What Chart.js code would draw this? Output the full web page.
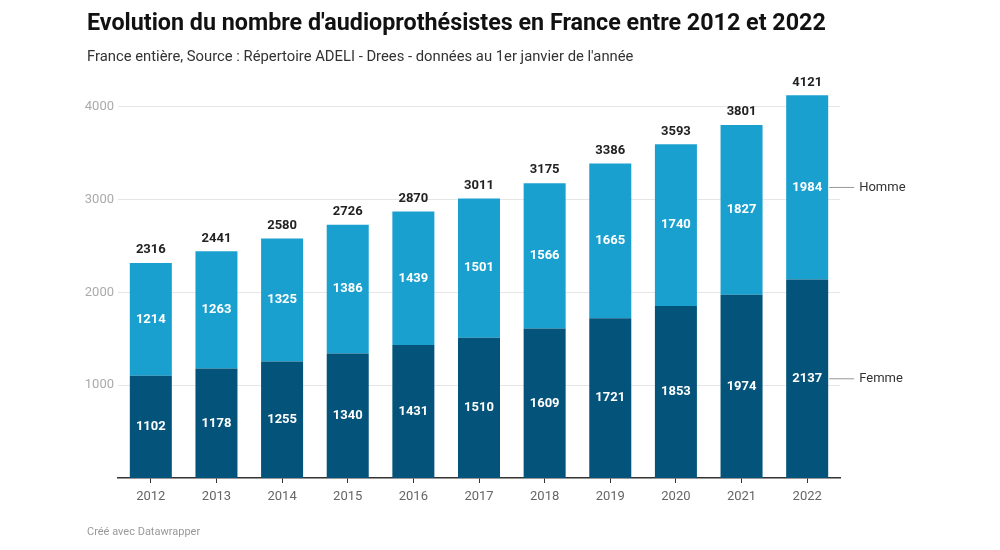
<html>
<head>
  <script src="https://cdn.jsdelivr.net/npm/chart.js@4.4.0/dist/chart.umd.min.js"></script>
  <style>
    body { margin:0; background:#fff; font-family:Roboto, sans-serif; }
    #wrap { position:relative; width:1000px; height:550px; }
    #title { position:absolute; left:87px; top:8px; font-size:23.3px; font-weight:bold; color:#111; }
    #subtitle { position:absolute; left:87px; top:47px; font-size:14.8px; color:#333; }
    #footer { position:absolute; left:87px; top:525px; font-size:11px; color:#999; }
    canvas { position:absolute; left:0; top:0; }
  </style>
</head>
<body>
<div id="wrap">
  <canvas id="chart" width="1000" height="550"></canvas>
  <div id="title">Evolution du nombre d'audioprothésistes en France entre 2012 et 2022</div>
  <div id="subtitle">France entière, Source : Répertoire ADELI - Drees - données au 1er janvier de l'année</div>
  <div id="footer">Créé avec Datawrapper</div>
</div>

<script>
var years = ['2012','2013','2014','2015','2016','2017','2018','2019','2020','2021','2022'];
var femme = [1102, 1178, 1255, 1340, 1431, 1510, 1609, 1721, 1853, 1974, 2137];
var homme = [1214, 1263, 1325, 1386, 1439, 1501, 1566, 1665, 1740, 1827, 1984];
var yTicks = [1000, 2000, 3000, 4000];

var totals = femme.map(function(v, i){ return v + homme[i]; });

// white values inside bars, totals on top, line labels at the right
var labelPlugin = {
  id: 'labels',
  afterDatasetsDraw: function(chart){
    var ctx = chart.ctx;
    ctx.save();
    ctx.textAlign = 'center';
    ctx.textBaseline = 'middle';
    chart.data.datasets.forEach(function(ds, di){
      var meta = chart.getDatasetMeta(di);
      meta.data.forEach(function(bar, i){
        var mid = (bar.y + bar.base) / 2;
        ctx.font = 'bold 13px Roboto';
        ctx.fillStyle = '#fff';
        ctx.fillText(ds.data[i], bar.x, mid);
      });
    });
    var top = chart.getDatasetMeta(1);
    top.data.forEach(function(bar, i){
      ctx.font = 'bold 13px Roboto';
      ctx.fillStyle = '#222';
      ctx.fillText(totals[i], bar.x, bar.y - 13);
    });
    // series labels
    var last = years.length - 1;
    chart.data.datasets.forEach(function(ds, di){
      var bar = chart.getDatasetMeta(di).data[last];
      var mid = (bar.y + bar.base) / 2;
      var xr = bar.x + bar.width / 2;
      ctx.strokeStyle = '#999';
      ctx.lineWidth = 1;
      ctx.beginPath();
      ctx.moveTo(xr + 1, mid);
      ctx.lineTo(xr + 26, mid);
      ctx.stroke();
      ctx.font = '13px Roboto';
      ctx.fillStyle = '#333';
      ctx.textAlign = 'left';
      ctx.fillText(ds.label, xr + 31, mid);
      ctx.textAlign = 'center';
    });
    ctx.restore();
  }
};

new Chart(document.getElementById('chart'), {
  type: 'bar',
  data: {
    labels: years,
    datasets: [
      { label: 'Femme', data: femme, backgroundColor: '#03537a', borderWidth: 0 },
      { label: 'Homme', data: homme, backgroundColor: '#1aa0cf', borderWidth: 0 }
    ]
  },
  options: {
    responsive: false,
    animation: false,
    layout: { padding: { left: 0, right: 160, top: 88, bottom: 0 } },
    plugins: { legend: { display: false }, tooltip: { enabled: false } },
    datasets: { bar: { barPercentage: 0.8, categoryPercentage: 0.8 } },
    scales: {
      x: {
        stacked: true,
        afterFit: function(s){ s.height = 72; },
        grid: { offset: false, drawOnChartArea: false, drawTicks: true, tickLength: 5, color: '#333' },
        border: { display: true, color: '#333', width: 1.5 },
        ticks: { color: '#666', font: { family: 'Roboto', size: 13 }, padding: 6 }
      },
      y: {
        stacked: true,
        min: 0,
        max: 4200,
        afterFit: function(s){ s.width = 118; },
        afterBuildTicks: function(s){
          s.ticks = yTicks.map(function(v){ return { value: v }; });
        },
        grid: { drawTicks: false, color: '#e6e6e6' },
        border: { display: false },
        ticks: {
          color: '#aaa',
          font: { family: 'Roboto', size: 13 },
          padding: 4,
          callback: function(v){ return String(v); }
        }
      }
    }
  },
  plugins: [labelPlugin]
});
</script>
</body>
</html>
